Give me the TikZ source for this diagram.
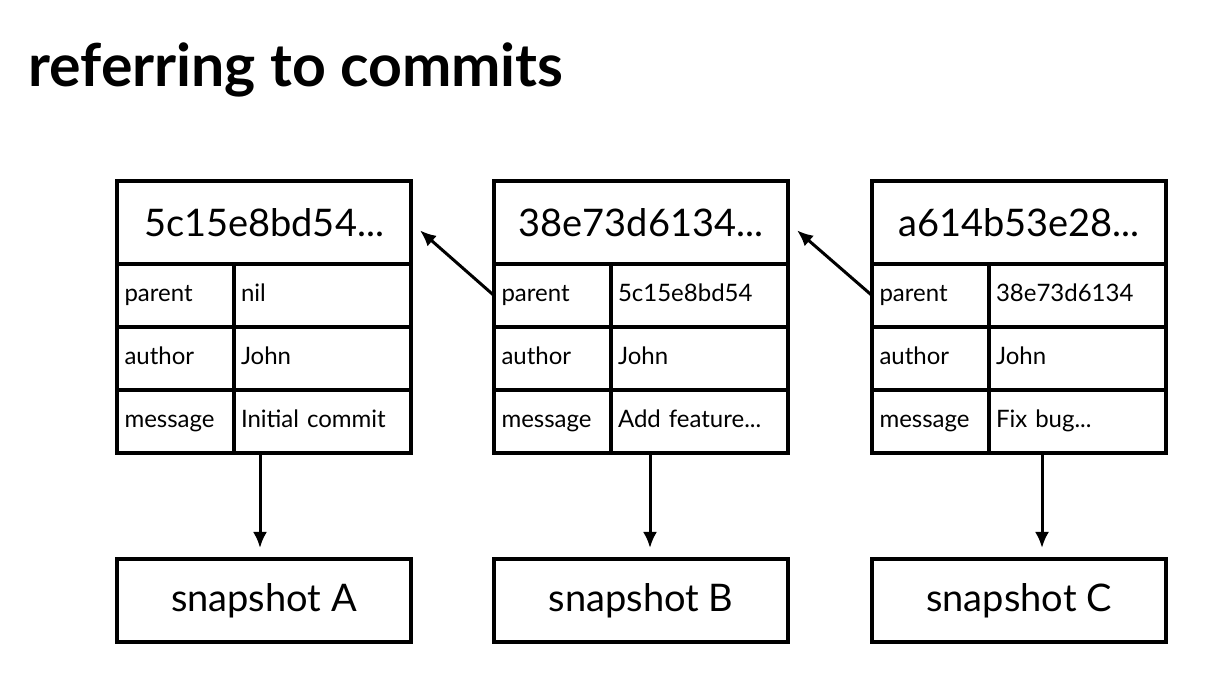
\documentclass[tikz,border=0pt]{standalone}
\usepackage{fontspec}
\setmainfont{Lato}
\usetikzlibrary{arrows.meta}
\tikzset{
  boxline/.style={draw=black, line width=1.7pt, outer sep=0pt, inner sep=0pt},
  hdr/.style={boxline, minimum width=147pt, minimum height=41.5pt, font=\fontsize{19}{21}\selectfont},
  cell/.style={boxline, minimum height=31.5pt, align=left, text height=8.5pt, text depth=2.5pt, font=\fontsize{12}{13}\selectfont},
  lab/.style={cell, minimum width=58.5pt, text width=51pt},
  val/.style={cell, minimum width=88.5pt, text width=81.5pt},
  snap/.style={boxline, minimum width=147pt, minimum height=41.5pt, font=\fontsize{19}{21}\selectfont},
  arr/.style={line width=1.5pt, -{Latex[length=8pt,width=7pt]}},
}
\newcommand\commitbox[7]{%
  \node[hdr, anchor=north west] (h#1) at (#2,181) {#3};
  \node[lab, anchor=north west] (pl#1) at (h#1.south west) {parent};
  \node[val, anchor=north west] (pv#1) at (pl#1.north east) {#4};
  \node[lab, anchor=north west] (al#1) at (pl#1.south west) {author};
  \node[val, anchor=north west] (av#1) at (al#1.north east) {John};
  \node[lab, anchor=north west] (ml#1) at (al#1.south west) {message};
  \node[val, anchor=north west] (mv#1) at (ml#1.north east) {#5};
  \node[snap, anchor=north west] (s#1) at (#2,559) {#6};
  \draw[arr] (mv#1.south -| #7,0) -- ([yshift=5.5pt]s#1.north -| #7,0);
}
\begin{document}
\begin{tikzpicture}[x=0.5pt, y=-0.5pt]
\useasboundingbox (0,0) rectangle (1224,688);
\node[anchor=base west, inner sep=0pt, font=\fontsize{29.5}{32}\selectfont\bfseries] (title) at (28,87) {referring to commits};
\commitbox{A}{117}{5c15e8bd54...}{nil}{Initial commit}{snapshot A}{260}
\commitbox{B}{494}{38e73d6134...}{5c15e8bd54}{Add feature...}{snapshot B}{650}
\commitbox{C}{872}{a614b53e28...}{38e73d6134}{Fix bug...}{snapshot C}{1042}
\draw[arr, shorten >=6pt] (plB.west) -- (hA.east);
\draw[arr, shorten >=6pt] (plC.west) -- (hB.east);
\end{tikzpicture}
\end{document}
